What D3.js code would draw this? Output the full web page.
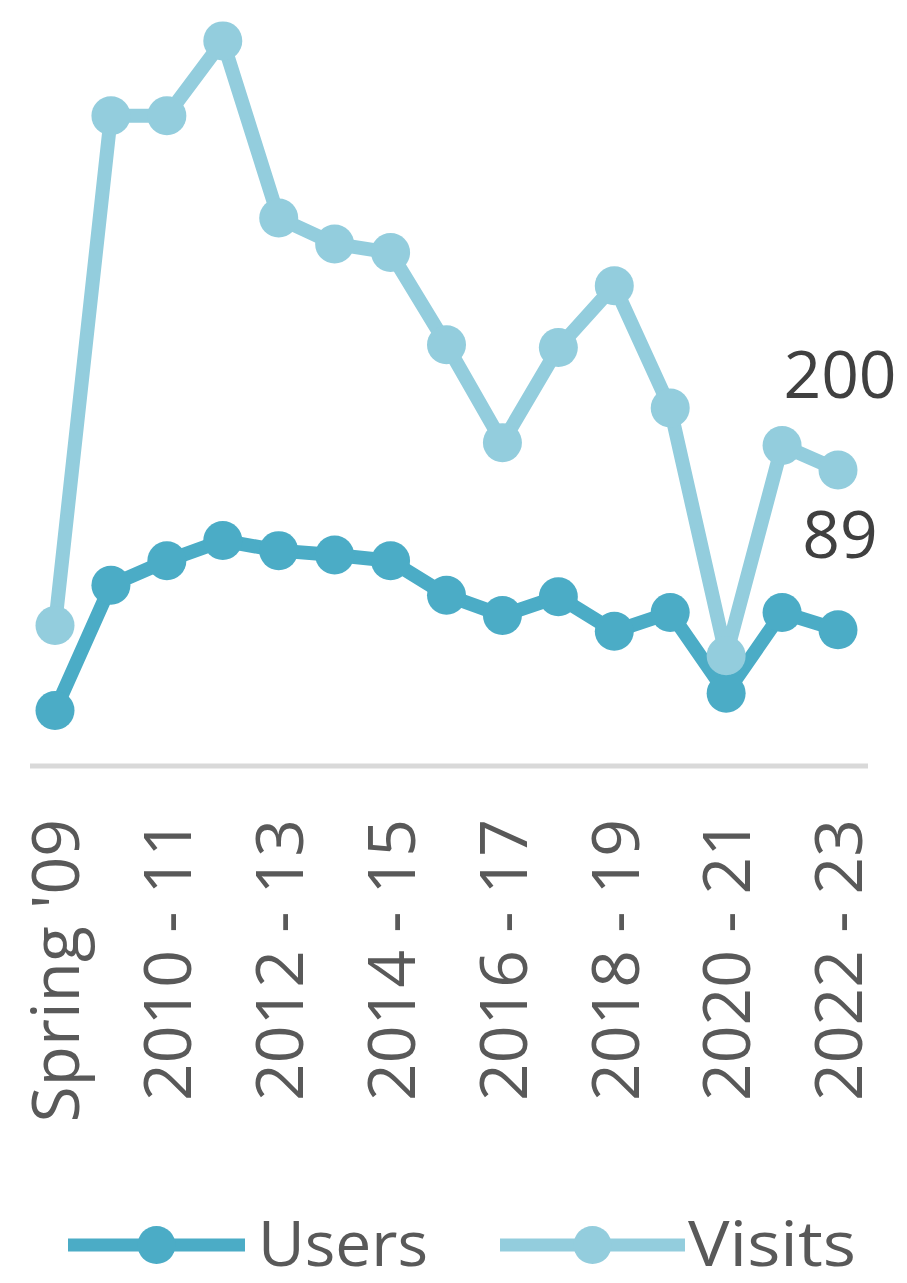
<!DOCTYPE html>
<html><head><meta charset="utf-8">
<script src="https://cdn.jsdelivr.net/npm/d3@7"></script>
<style>body{margin:0;background:#fff}svg{display:block;font-family:"Open Sans","Noto Sans",sans-serif}</style>
</head><body><svg id="c" width="907" height="1283"></svg>
<script>
const categories = ["Spring '09","2009 - 10","2010 - 11","2011 - 12","2012 - 13","2013 - 14","2014 - 15","2015 - 16","2016 - 17","2017 - 18","2018 - 19","2019 - 20","2020 - 21","2021 - 22","2022 - 23"];
const visits = [92, 446, 446, 498, 375, 357, 351, 287, 219, 285, 328, 243, 71, 217, 200];
const users  = [33, 120, 137, 151, 144, 141, 137, 113, 99, 112, 88, 101, 45, 101, 89];
const seriesNames = ["Users","Visits"];
const colors = ["#4BACC6","#93CDDD"];

const svg = d3.select("#c");
const x = d3.scalePoint().domain(categories).range([55, 838]);
const y = d3.scaleLinear().domain([0, 500]).range([758, 38]);

svg.append("line").attr("x1",30).attr("x2",868).attr("y1",766).attr("y2",766)
  .attr("stroke","#d9d9d9").attr("stroke-width",5);

const axis = d3.axisBottom(x).tickSize(0).tickFormat((d,i)=> i%2===0 ? d : "");
const ag = svg.append("g").attr("transform","translate(0,766)").call(axis);
ag.select(".domain").remove();
ag.selectAll("text").attr("transform","rotate(-90)").attr("x",-53).attr("y",0).attr("dy","0.36em")
  .attr("text-anchor","end").attr("font-size",66).attr("fill","#595959")
  .attr("font-family","'Open Sans','Noto Sans',sans-serif");

const data = [users, visits];
const line = d3.line().x((d,i)=>x(categories[i])).y(d=>y(d));
[0,1].forEach(s=>{
  const g = svg.append("g");
  g.append("path").datum(data[s]).attr("d",line).attr("fill","none")
    .attr("stroke",colors[s]).attr("stroke-width",14).attr("stroke-linejoin","round");
  g.selectAll("circle").data(data[s]).join("circle")
    .attr("cx",(d,i)=>x(categories[i])).attr("cy",d=>y(d)).attr("r",19.5).attr("fill",colors[s]);
});

[1,0].forEach(s=>{
  const v = data[s][data[s].length-1];
  svg.append("text").attr("x",x(categories[categories.length-1])+2).attr("y",y(v)-72)
    .attr("text-anchor","middle").attr("font-size",66).attr("fill","#404040").text(v);
});

const leg = [{x0:68,x1:245,tx:258},{x0:500,x1:685,tx:688}];
leg.forEach((l,s)=>{
  svg.append("line").attr("x1",l.x0).attr("x2",l.x1).attr("y1",1245).attr("y2",1245)
    .attr("stroke",colors[s]).attr("stroke-width",13);
  svg.append("circle").attr("cx",(l.x0+l.x1)/2).attr("cy",1245).attr("r",19).attr("fill",colors[s]);
  svg.append("text").attr("x",l.tx).attr("y",1266).attr("font-size",62).attr("fill","#595959")
    .attr("textLength", s===0 ? 170 : 168).attr("lengthAdjust","spacingAndGlyphs")
    .text(seriesNames[s]);
});
</script></body></html>
